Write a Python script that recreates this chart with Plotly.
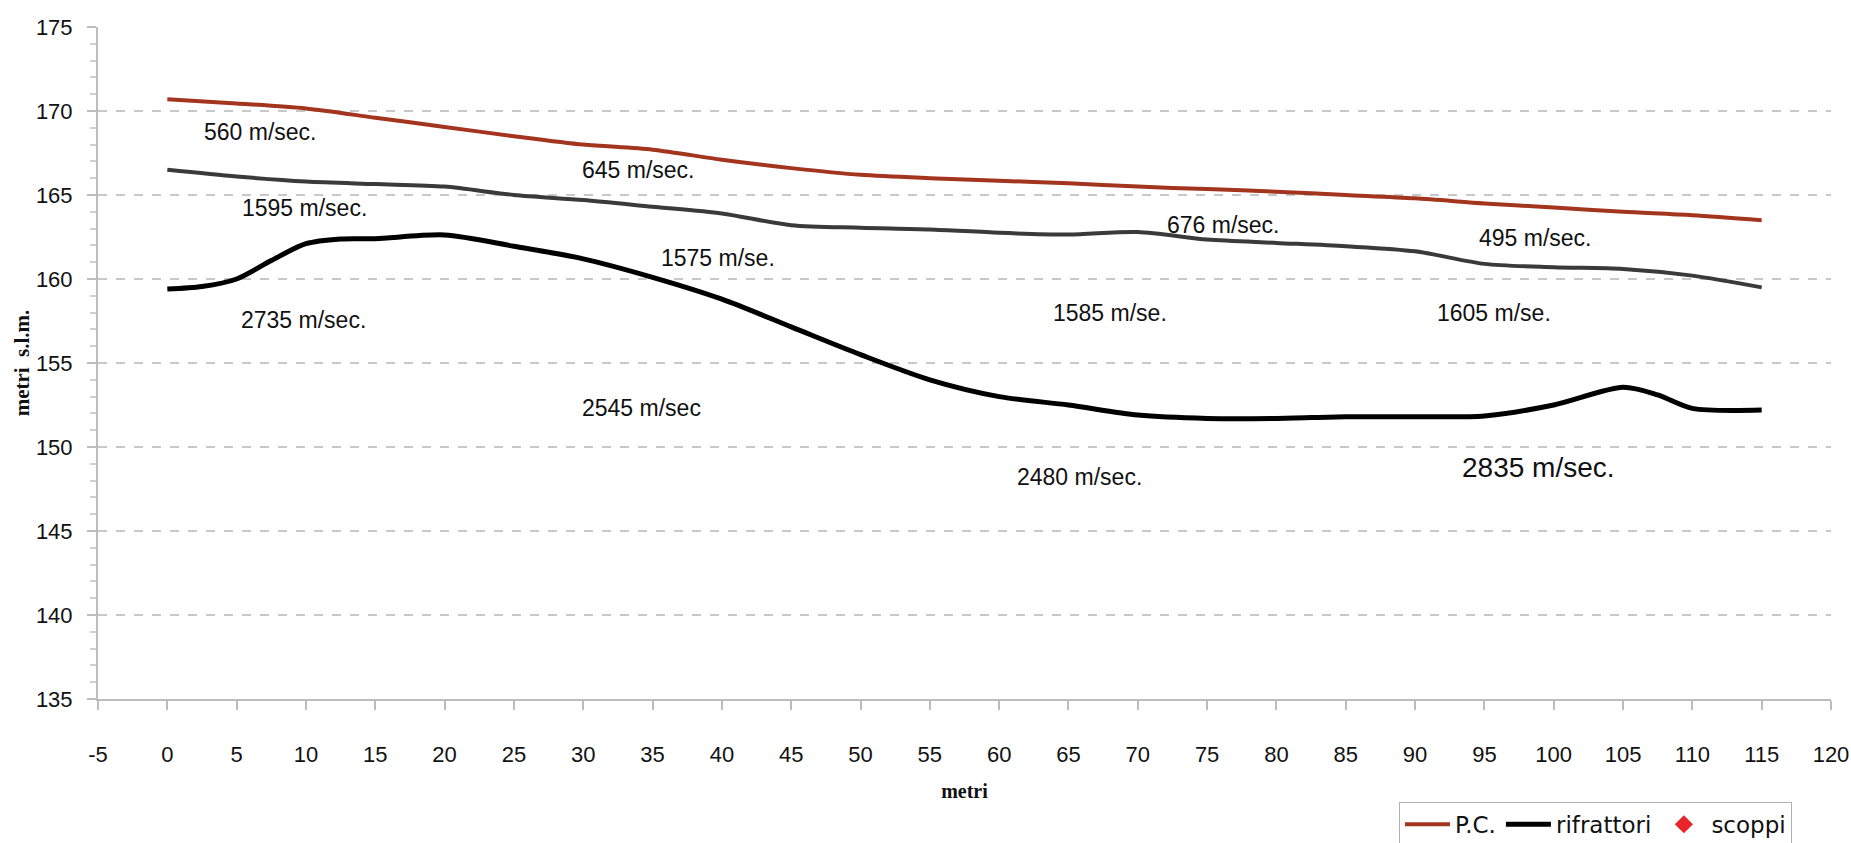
import plotly.graph_objects as go

# ---- data ----
x_pc = [0, 5, 10, 15, 20, 25, 30, 35, 40, 45, 50, 55, 60, 65, 70, 75, 80, 85, 90, 95, 100, 105, 110, 115]
y_pc = [170.7, 170.45, 170.15, 169.6, 169.05, 168.5, 168.0, 167.7, 167.1, 166.6, 166.2, 166.0, 165.85, 165.7,
        165.5, 165.35, 165.2, 165.0, 164.8, 164.5, 164.25, 164.0, 163.8, 163.5]

x_rif1 = [0, 5, 10, 15, 20, 25, 30, 35, 40, 45, 50, 55, 60, 65, 70, 75, 80, 85, 90, 95, 100, 105, 110, 115]
y_rif1 = [166.5, 166.1, 165.8, 165.65, 165.5, 165.0, 164.7, 164.3, 163.9, 163.2, 163.05, 162.95, 162.75, 162.65,
          162.8, 162.35, 162.15, 161.95, 161.65, 160.9, 160.7, 160.6, 160.2, 159.5]

x_rif2 = [0, 2.5, 5, 7.5, 10, 12.5, 15, 20, 25, 30, 35, 40, 45, 50, 55, 60, 65, 70, 75, 80, 85, 90, 95, 100,
          105, 107.5, 110, 115]
y_rif2 = [159.4, 159.55, 160.0, 161.1, 162.1, 162.38, 162.4, 162.62, 161.95, 161.2, 160.1, 158.8, 157.15, 155.5,
          154.0, 153.0, 152.5, 151.9, 151.7, 151.7, 151.8, 151.8, 151.85, 152.5, 153.55, 153.1, 152.3, 152.2]

vel_text = ["560 m/sec.", "1595 m/sec.", "2735 m/sec.", "645 m/sec.", "1575 m/se.", "2545 m/sec",
            "676 m/sec.", "1585 m/se.", "495 m/sec.", "1605 m/se.", "2480 m/sec.", "2835 m/sec."]
vel_x = [6.7, 9.9, 9.8, 34.0, 39.7, 34.2, 76.2, 68.0, 98.7, 95.7, 65.8, 98.9]
vel_y = [168.77, 164.2, 157.56, 166.49, 161.23, 152.3, 163.21, 157.96, 162.42, 157.96, 148.2, 148.78]
vel_size = [23, 23, 23, 23, 23, 23, 23, 23, 23, 23, 23, 28]

x_ticks = list(range(-5, 121, 5))
y_ticks = list(range(135, 176, 5))

fig = go.Figure()
fig.add_trace(go.Scatter(x=x_pc, y=y_pc, mode="lines", name="P.C.",
                         line=dict(color="#a3341e", width=4, shape="spline", smoothing=0.8)))
fig.add_trace(go.Scatter(x=x_rif1, y=y_rif1, mode="lines", name="rifrattori", showlegend=False,
                         line=dict(color="#3a3a3a", width=4, shape="spline", smoothing=0.8)))
fig.add_trace(go.Scatter(x=x_rif2, y=y_rif2, mode="lines", name="rifrattori",
                         line=dict(color="#000000", width=5, shape="spline", smoothing=0.8)))
fig.add_trace(go.Scatter(x=[None], y=[None], mode="markers", name="scoppi",
                         marker=dict(symbol="diamond", color="#e8262a", size=14)))

for t, xv, yv, s in zip(vel_text, vel_x, vel_y, vel_size):
    fig.add_annotation(x=xv, y=yv, text=t, showarrow=False, xanchor="center", yanchor="middle",
                       font=dict(family="Liberation Sans, Arial", size=s, color="#111111"))

fig.update_layout(
    width=1851, height=843,
    margin=dict(l=98, r=20, t=27, b=144, autoexpand=False),
    paper_bgcolor="white", plot_bgcolor="white",
    font=dict(family="Liberation Sans, Arial", size=22, color="#111111"),
    legend=dict(orientation="h", x=0.7507, y=-0.153, xanchor="left", yanchor="top",
                bordercolor="#b0b0b0", borderwidth=1, font=dict(size=23, family="DejaVu Sans"),
                itemwidth=45, tracegroupgap=0),
)
fig.update_xaxes(range=[-5, 120], tickmode="array", tickvals=x_ticks, ticktext=[str(v) for v in x_ticks],
                 automargin=False,
                 showgrid=False, zeroline=False, showline=True, linecolor="#bdbdbd", linewidth=2,
                 ticks="outside", ticklen=9, tickcolor="#bdbdbd", tickwidth=1.5,
                 ticklabelstandoff=26, tickfont=dict(size=22),
                 title=dict(text="<b>metri</b>", font=dict(family="Liberation Serif, Times New Roman", size=20),
                            standoff=18))
fig.update_yaxes(range=[135, 175], tickmode="array", tickvals=y_ticks, ticktext=[str(v) for v in y_ticks],
                 automargin=False,
                 showgrid=True, gridcolor="#c8c8c8", griddash="dash", gridwidth=1.5,
                 zeroline=False, showline=True, linecolor="#bdbdbd", linewidth=2,
                 ticks="outside", ticklen=9, tickcolor="#bdbdbd", tickwidth=1.5,
                 minor=dict(dtick=1, ticks="outside", ticklen=6, tickcolor="#cfcfcf", showgrid=False),
                 ticklabelstandoff=10, tickfont=dict(size=22),
                 title=dict(text="<b>metri\u00a0\u00a0s.l.m.</b>",
                            font=dict(family="Liberation Serif, Times New Roman", size=21), standoff=1))

fig.write_html("out.html", config={"displayModeBar": False},
               post_script="document.body.style.margin='0';document.body.style.overflow='hidden';")
